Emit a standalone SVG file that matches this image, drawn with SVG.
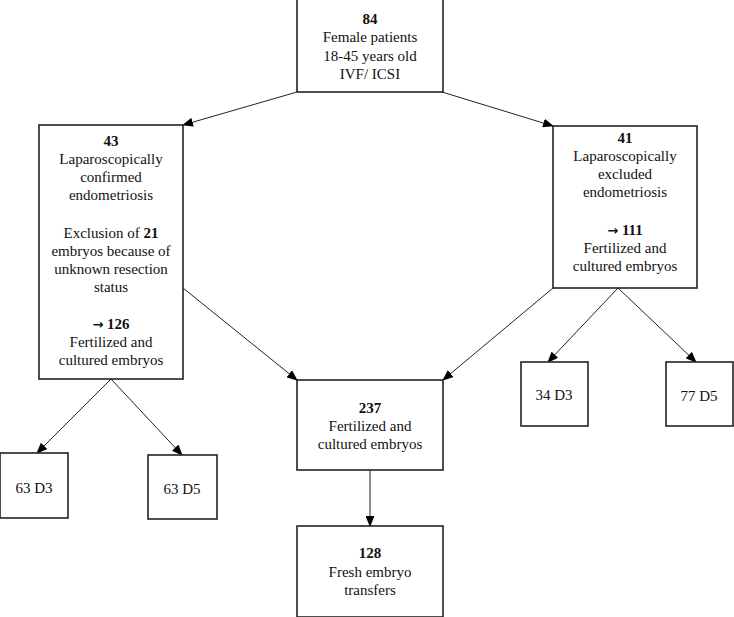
<svg xmlns="http://www.w3.org/2000/svg" width="734" height="617" viewBox="0 0 734 617">
<defs>
<marker id="ah" markerUnits="userSpaceOnUse" markerWidth="11" markerHeight="9" refX="10" refY="4.5" orient="auto"><path d="M0,0 L11,4.5 L0,9 z" fill="#000"/></marker>
<style>
.box{fill:#fff;stroke:#222;stroke-width:1.6}
.t{font-family:"Liberation Serif","Times New Roman",serif;font-size:15px;fill:#111;text-anchor:middle}
.b{font-weight:bold}
.ar{font-family:"DejaVu Sans",sans-serif;font-size:13px;font-weight:bold}
.c{stroke:#222;stroke-width:1;fill:none;marker-end:url(#ah)}
</style>
</defs>
<rect width="734" height="617" fill="#fff"/>
<g id="connectors">
<line class="c" x1="297" y1="92" x2="183" y2="125"/>
<line class="c" x1="442" y1="92" x2="553" y2="126"/>
<line class="c" x1="183" y1="288" x2="297" y2="380"/>
<line class="c" x1="553" y1="288" x2="443" y2="380"/>
<line class="c" x1="111" y1="379" x2="37" y2="453"/>
<line class="c" x1="111" y1="379" x2="182" y2="455"/>
<line class="c" x1="618" y1="288" x2="548" y2="362"/>
<line class="c" x1="618" y1="288" x2="696" y2="362"/>
<line class="c" x1="370" y1="470" x2="370" y2="526"/>
</g>
<g id="n84">
<rect class="box" x="297" y="-1" width="146" height="93"/>
<text class="t b" x="370" y="24">84</text>
<text class="t" x="370" y="42">Female patients</text>
<text class="t" x="370" y="61">18-45 years old</text>
<text class="t" x="370" y="79">IVF/ ICSI</text>
</g>
<g id="n43">
<rect class="box" x="39" y="125" width="144" height="254"/>
<text class="t b" x="111" y="146">43</text>
<text class="t" x="111" y="164">Laparoscopically</text>
<text class="t" x="111" y="182">confirmed</text>
<text class="t" x="111" y="200">endometriosis</text>
<text class="t" x="111" y="238">Exclusion of <tspan class="b">21</tspan></text>
<text class="t" x="111" y="256">embryos because of</text>
<text class="t" x="111" y="274">unknown resection</text>
<text class="t" x="111" y="292">status</text>
<text class="t b" x="111" y="329"><tspan class="ar">→</tspan> 126</text>
<text class="t" x="111" y="347">Fertilized and</text>
<text class="t" x="111" y="365">cultured embryos</text>
</g>
<g id="n41">
<rect class="box" x="553" y="126" width="144" height="162"/>
<text class="t b" x="625" y="143">41</text>
<text class="t" x="625" y="161">Laparoscopically</text>
<text class="t" x="625" y="179">excluded</text>
<text class="t" x="625" y="197">endometriosis</text>
<text class="t b" x="625" y="235"><tspan class="ar">→</tspan> 111</text>
<text class="t" x="625" y="253">Fertilized and</text>
<text class="t" x="625" y="271">cultured embryos</text>
</g>
<g id="n237">
<rect class="box" x="297" y="380" width="146" height="90"/>
<text class="t b" x="370" y="413">237</text>
<text class="t" x="370" y="431">Fertilized and</text>
<text class="t" x="370" y="449">cultured embryos</text>
</g>
<g id="n128">
<rect class="box" x="297" y="526" width="146" height="91"/>
<text class="t b" x="370" y="558">128</text>
<text class="t" x="370" y="577">Fresh embryo</text>
<text class="t" x="370" y="595">transfers</text>
</g>
<g id="n63d3">
<rect class="box" x="0" y="453" width="68" height="65"/>
<text class="t" x="34" y="493">63 D3</text>
</g>
<g id="n63d5">
<rect class="box" x="148" y="455" width="69" height="64"/>
<text class="t" x="182" y="494">63 D5</text>
</g>
<g id="n34d3">
<rect class="box" x="521" y="362" width="67" height="64"/>
<text class="t" x="554" y="400">34 D3</text>
</g>
<g id="n77d5">
<rect class="box" x="666" y="362" width="67" height="64"/>
<text class="t" x="699" y="401">77 D5</text>
</g>
</svg>
